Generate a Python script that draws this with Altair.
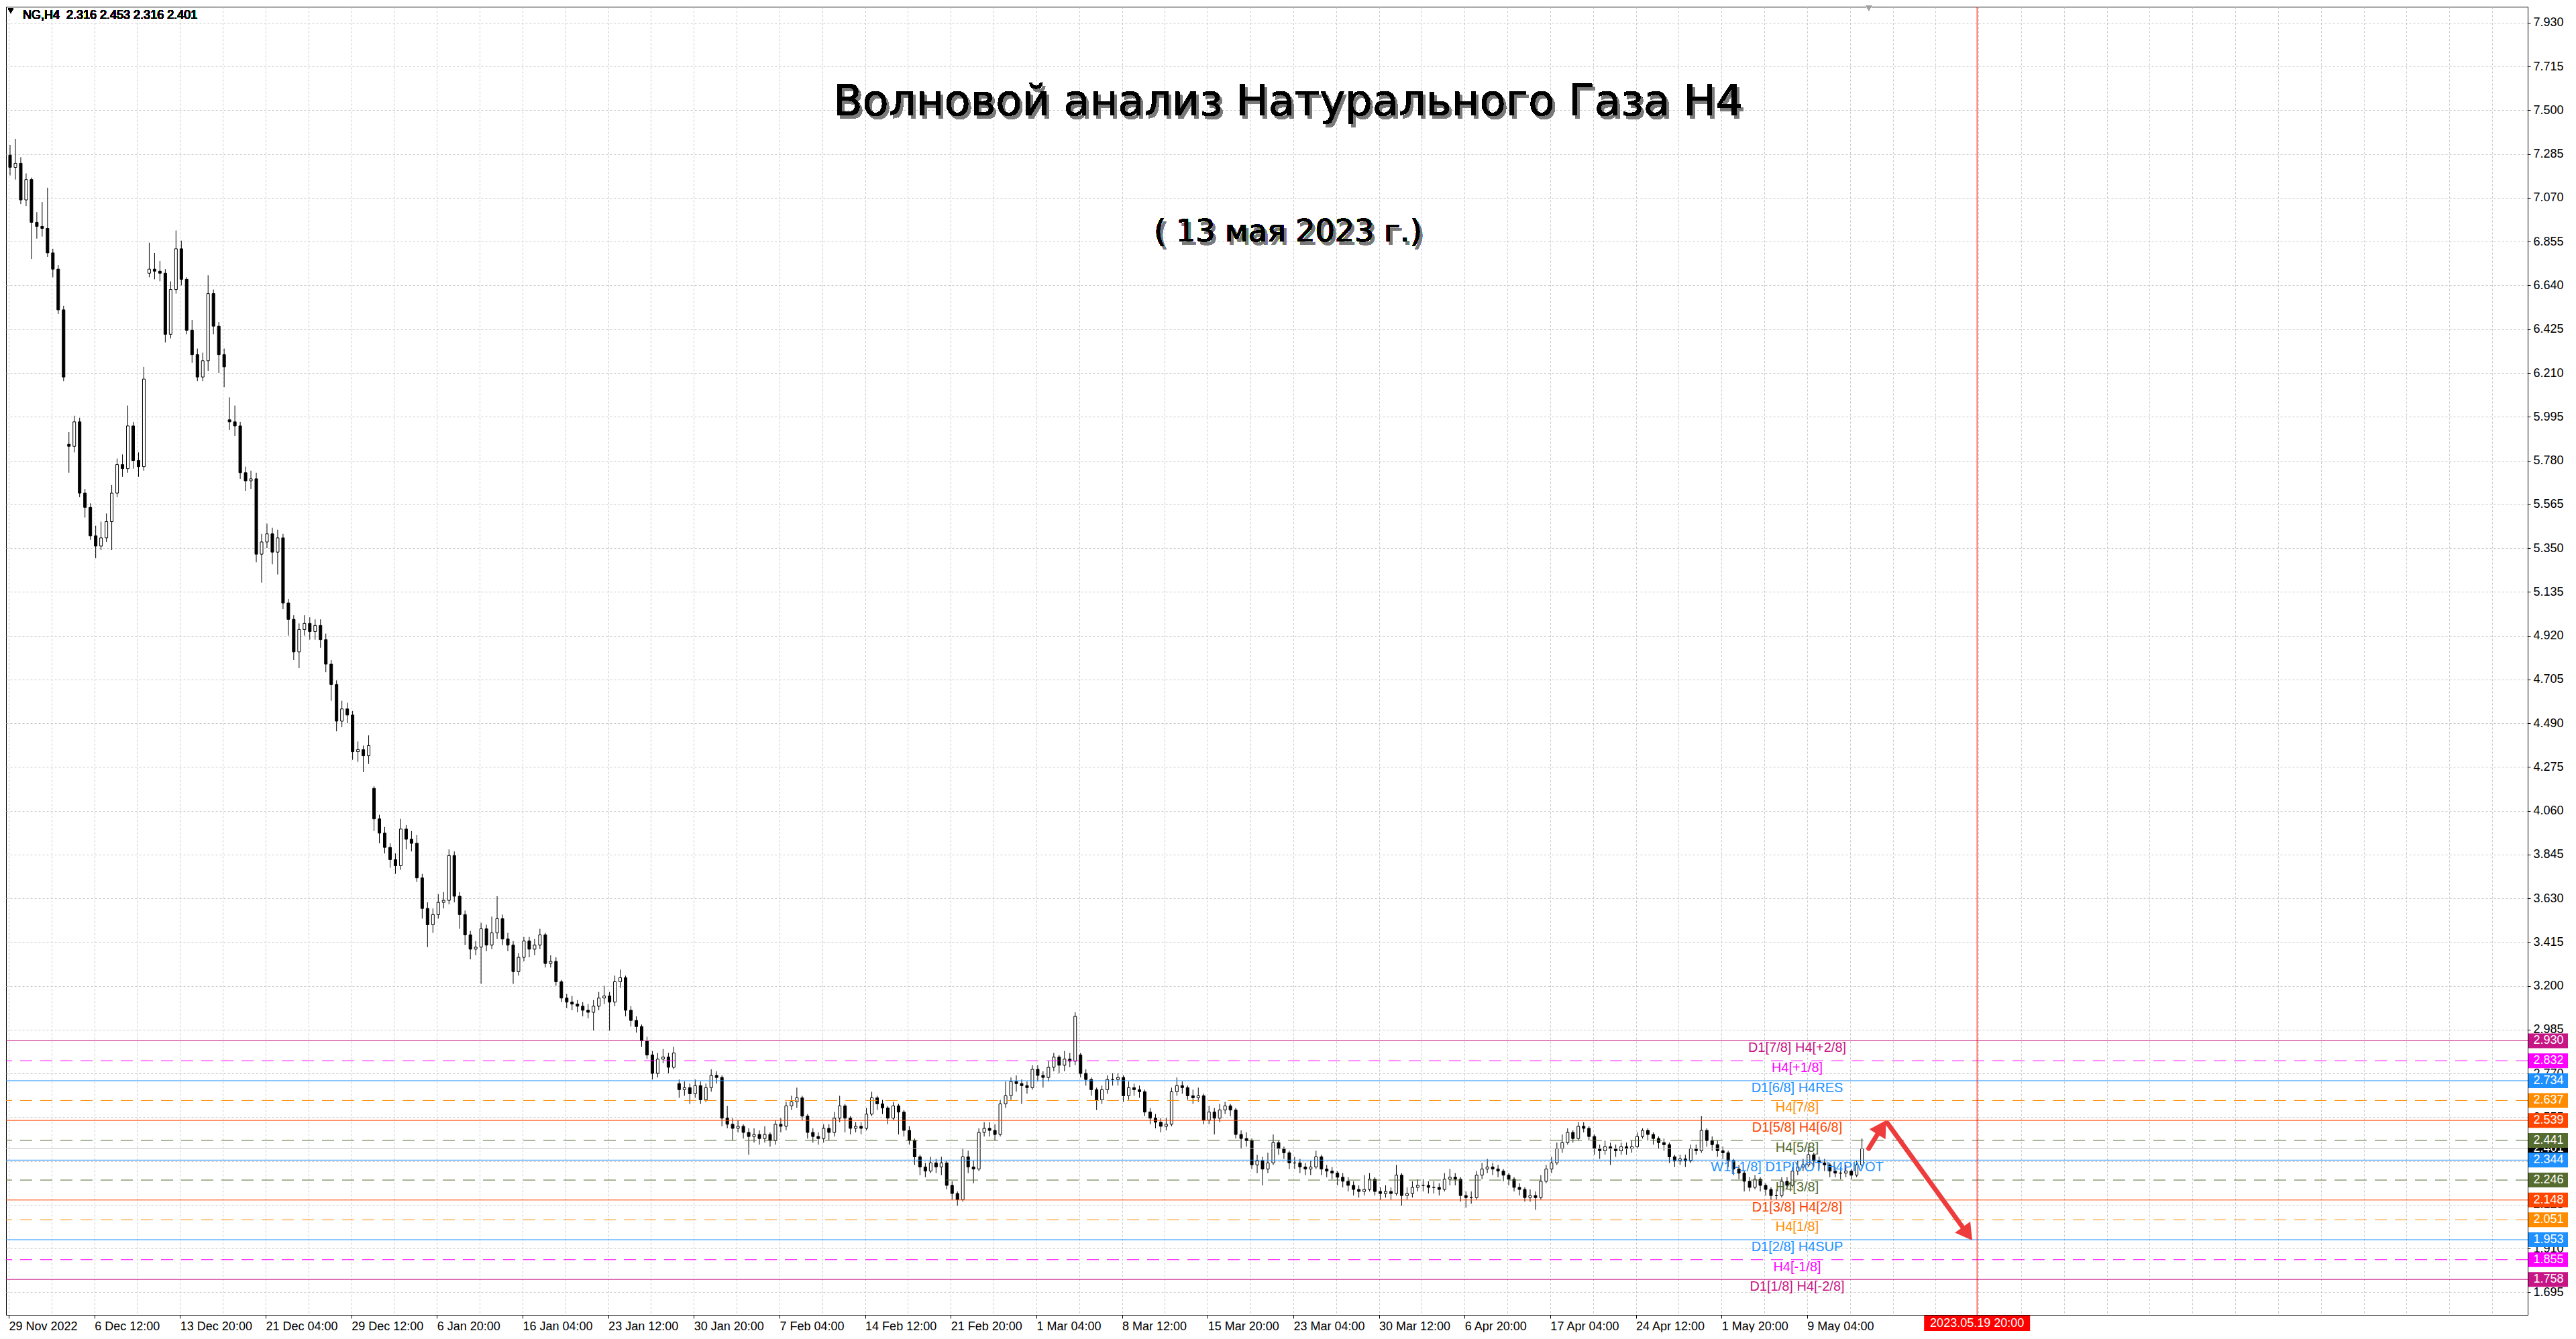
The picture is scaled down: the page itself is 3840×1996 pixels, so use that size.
import altair as alt
import pandas as pd

# NG, H4 chart — candles grouped two H4 bars per candle (8h)
first_open = 7.28
closes = [
    7.22, 7.24, 7.06, 7.16, 6.95, 6.93, 6.92, 6.80, 6.72, 6.52,
    6.19, 5.85, 5.97, 5.62, 5.55, 5.41, 5.36, 5.40, 5.48, 5.62,
    5.76, 5.74, 5.95, 5.78, 5.75, 6.18, 6.72, 6.71, 6.70, 6.40,
    6.62, 6.82, 6.67, 6.42, 6.30, 6.19, 6.27, 6.60, 6.44, 6.30,
    6.24, 5.97, 5.95, 5.72, 5.68, 5.69, 5.32, 5.38, 5.42, 5.33,
    5.40, 5.08, 5.00, 4.84, 4.95, 4.98, 4.94, 4.97, 4.90, 4.78,
    4.68, 4.50, 4.56, 4.53, 4.35, 4.36, 4.33, 4.38, 4.02, 3.95,
    3.88, 3.82, 3.79, 3.97, 3.92, 3.90, 3.73, 3.58, 3.50, 3.55,
    3.61, 3.62, 3.84, 3.64, 3.55, 3.45, 3.38, 3.39, 3.48, 3.40,
    3.46, 3.53, 3.43, 3.40, 3.27, 3.34, 3.42, 3.38, 3.40, 3.45,
    3.31, 3.32, 3.22, 3.14, 3.12, 3.11, 3.10, 3.08, 3.07, 3.10,
    3.14, 3.15, 3.12, 3.22, 3.24, 3.08, 3.03, 3.00, 2.93, 2.86,
    2.77, 2.84, 2.85, 2.80, 2.87, 2.69, 2.70, 2.67, 2.71, 2.64,
    2.70, 2.76, 2.75, 2.55, 2.52, 2.50, 2.51, 2.48, 2.46, 2.47,
    2.45, 2.47, 2.44, 2.52, 2.51, 2.61, 2.63, 2.65, 2.56, 2.48,
    2.46, 2.45, 2.50, 2.48, 2.55, 2.61, 2.55, 2.50, 2.51, 2.50,
    2.57, 2.65, 2.62, 2.60, 2.55, 2.61, 2.58, 2.49, 2.44, 2.36,
    2.31, 2.29, 2.33, 2.31, 2.33, 2.22, 2.18, 2.15, 2.36, 2.31,
    2.30, 2.48, 2.50, 2.49, 2.47, 2.62, 2.66, 2.73, 2.72, 2.71,
    2.70, 2.79, 2.76, 2.75, 2.80, 2.85, 2.81, 2.84, 2.83, 3.05,
    2.77, 2.74, 2.69, 2.64, 2.69, 2.74, 2.74, 2.75, 2.66, 2.70,
    2.69, 2.68, 2.58, 2.55, 2.53, 2.51, 2.52, 2.68, 2.71, 2.70,
    2.66, 2.65, 2.66, 2.54, 2.58, 2.55, 2.59, 2.61, 2.59, 2.47,
    2.45, 2.44, 2.32, 2.34, 2.30, 2.33, 2.43, 2.40, 2.38, 2.33,
    2.33, 2.31, 2.30, 2.31, 2.36, 2.30, 2.29, 2.28, 2.26, 2.24,
    2.22, 2.20, 2.19, 2.20, 2.25, 2.19, 2.18, 2.19, 2.18, 2.27,
    2.17, 2.18, 2.21, 2.22, 2.22, 2.21, 2.21, 2.20, 2.25, 2.26,
    2.25, 2.17, 2.16, 2.16, 2.27, 2.30, 2.31, 2.30, 2.29, 2.27,
    2.25, 2.21, 2.20, 2.16, 2.17, 2.16, 2.24, 2.30, 2.33, 2.40,
    2.43, 2.48, 2.45, 2.51, 2.50, 2.46, 2.40, 2.39, 2.41, 2.40,
    2.39, 2.41, 2.40, 2.41, 2.46, 2.49, 2.47, 2.45, 2.43, 2.42,
    2.36, 2.34, 2.35, 2.34, 2.40, 2.39, 2.49, 2.44, 2.42, 2.39,
    2.38, 2.34, 2.30, 2.28, 2.24, 2.21, 2.25, 2.22, 2.20, 2.17,
    2.17, 2.24, 2.22, 2.29, 2.31, 2.32, 2.37, 2.34, 2.33, 2.32,
    2.29, 2.28, 2.28, 2.29, 2.27, 2.32, 2.40,
]
highs = [
    7.33, 7.36, 7.27, 7.19, 7.17, 7.00, 7.05, 7.12, 6.82, 6.74,
    6.54, 5.92, 6.00, 5.99, 5.64, 5.57, 5.46, 5.48, 5.52, 5.66,
    5.79, 5.81, 6.05, 5.97, 5.82, 6.24, 6.85, 6.80, 6.76, 6.72,
    6.66, 6.91, 6.86, 6.68, 6.47, 6.33, 6.31, 6.69, 6.62, 6.46,
    6.33, 6.09, 6.05, 5.97, 5.75, 5.73, 5.72, 5.42, 5.47, 5.45,
    5.44, 5.42, 5.10, 5.02, 4.98, 5.02, 5.01, 5.00, 5.00, 4.93,
    4.80, 4.70, 4.60, 4.59, 4.55, 4.40, 4.38, 4.43, 4.18, 4.04,
    3.98, 3.90, 3.85, 4.02, 3.99, 3.96, 3.94, 3.75, 3.61, 3.58,
    3.65, 3.66, 3.87, 3.86, 3.66, 3.57, 3.47, 3.42, 3.51, 3.50,
    3.54, 3.64, 3.55, 3.46, 3.42, 3.36, 3.44, 3.44, 3.43, 3.48,
    3.46, 3.35, 3.34, 3.23, 3.16, 3.15, 3.13, 3.12, 3.11, 3.13,
    3.17, 3.20, 3.17, 3.25, 3.28, 3.25, 3.10, 3.05, 3.01, 2.95,
    2.88, 2.87, 2.89, 2.87, 2.90, 2.74, 2.73, 2.72, 2.74, 2.73,
    2.72, 2.79, 2.78, 2.76, 2.61, 2.55, 2.54, 2.52, 2.50, 2.50,
    2.49, 2.51, 2.48, 2.54, 2.55, 2.63, 2.66, 2.70, 2.66, 2.57,
    2.50, 2.48, 2.52, 2.52, 2.58, 2.66, 2.62, 2.56, 2.53, 2.53,
    2.60, 2.68, 2.66, 2.64, 2.61, 2.63, 2.62, 2.59, 2.51, 2.45,
    2.37, 2.33, 2.36, 2.35, 2.36, 2.34, 2.24, 2.19, 2.40, 2.39,
    2.34, 2.50, 2.53, 2.53, 2.52, 2.64, 2.73, 2.75, 2.76, 2.74,
    2.73, 2.81, 2.81, 2.78, 2.83, 2.87, 2.86, 2.88, 2.87, 3.07,
    2.87, 2.79, 2.75, 2.70, 2.71, 2.76, 2.77, 2.77, 2.76, 2.73,
    2.72, 2.71, 2.69, 2.60, 2.57, 2.55, 2.55, 2.70, 2.75, 2.73,
    2.71, 2.69, 2.70, 2.67, 2.61, 2.60, 2.62, 2.63, 2.62, 2.60,
    2.49, 2.48, 2.45, 2.37, 2.36, 2.38, 2.47, 2.44, 2.41, 2.39,
    2.36, 2.35, 2.33, 2.34, 2.39, 2.37, 2.32, 2.31, 2.29, 2.28,
    2.26, 2.24, 2.22, 2.27, 2.28, 2.26, 2.21, 2.22, 2.21, 2.32,
    2.28, 2.21, 2.24, 2.25, 2.25, 2.24, 2.24, 2.23, 2.28, 2.30,
    2.28, 2.26, 2.19, 2.19, 2.29, 2.33, 2.35, 2.33, 2.32, 2.30,
    2.28, 2.26, 2.23, 2.21, 2.20, 2.19, 2.27, 2.32, 2.36, 2.43,
    2.47, 2.50, 2.49, 2.53, 2.53, 2.51, 2.47, 2.42, 2.44, 2.43,
    2.42, 2.43, 2.43, 2.44, 2.48, 2.50, 2.50, 2.48, 2.46, 2.45,
    2.43, 2.37, 2.37, 2.37, 2.42, 2.42, 2.56, 2.50, 2.46, 2.44,
    2.41, 2.39, 2.35, 2.32, 2.29, 2.26, 2.27, 2.26, 2.23, 2.21,
    2.20, 2.26, 2.26, 2.31, 2.34, 2.35, 2.41, 2.38, 2.36, 2.35,
    2.33, 2.31, 2.31, 2.32, 2.30, 2.34, 2.45,
]
lows = [
    7.18, 7.16, 7.04, 7.03, 6.77, 6.87, 6.88, 6.78, 6.68, 6.50,
    6.17, 5.72, 5.82, 5.60, 5.50, 5.39, 5.30, 5.34, 5.38, 5.34,
    5.60, 5.70, 5.72, 5.74, 5.70, 5.73, 6.68, 6.67, 6.66, 6.36,
    6.38, 6.60, 6.64, 6.40, 6.26, 6.17, 6.17, 6.22, 6.40, 6.21,
    6.14, 5.93, 5.90, 5.69, 5.63, 5.64, 5.28, 5.18, 5.35, 5.27,
    5.22, 5.05, 4.92, 4.80, 4.76, 4.92, 4.90, 4.90, 4.86, 4.74,
    4.60, 4.45, 4.47, 4.49, 4.31, 4.30, 4.25, 4.29, 3.96, 3.90,
    3.85, 3.78, 3.75, 3.77, 3.87, 3.86, 3.71, 3.53, 3.39, 3.46,
    3.53, 3.58, 3.60, 3.61, 3.48, 3.40, 3.33, 3.35, 3.21, 3.37,
    3.38, 3.43, 3.40, 3.37, 3.21, 3.25, 3.32, 3.34, 3.35, 3.38,
    3.29, 3.29, 3.20, 3.12, 3.09, 3.08, 3.07, 3.05, 3.04, 2.98,
    3.08, 3.11, 2.98, 3.10, 3.19, 3.05, 3.00, 2.97, 2.90, 2.84,
    2.74, 2.75, 2.82, 2.77, 2.79, 2.65, 2.66, 2.62, 2.65, 2.62,
    2.63, 2.68, 2.72, 2.51, 2.50, 2.44, 2.48, 2.45, 2.37, 2.43,
    2.42, 2.43, 2.41, 2.42, 2.48, 2.49, 2.59, 2.60, 2.54, 2.45,
    2.43, 2.42, 2.43, 2.44, 2.46, 2.53, 2.48, 2.47, 2.48, 2.47,
    2.49, 2.56, 2.59, 2.57, 2.52, 2.54, 2.47, 2.46, 2.42, 2.32,
    2.27, 2.26, 2.28, 2.28, 2.27, 2.20, 2.15, 2.12, 2.14, 2.28,
    2.23, 2.29, 2.46, 2.46, 2.44, 2.46, 2.60, 2.64, 2.68, 2.62,
    2.67, 2.69, 2.73, 2.70, 2.73, 2.78, 2.77, 2.78, 2.80, 2.81,
    2.75, 2.71, 2.66, 2.59, 2.62, 2.67, 2.71, 2.71, 2.63, 2.64,
    2.66, 2.65, 2.56, 2.52, 2.50, 2.48, 2.49, 2.51, 2.66, 2.67,
    2.64, 2.62, 2.63, 2.52, 2.52, 2.47, 2.53, 2.57, 2.56, 2.45,
    2.40, 2.41, 2.30, 2.28, 2.22, 2.28, 2.32, 2.37, 2.35, 2.30,
    2.30, 2.28, 2.27, 2.27, 2.30, 2.27, 2.26, 2.25, 2.22, 2.21,
    2.19, 2.17, 2.16, 2.17, 2.19, 2.17, 2.15, 2.16, 2.15, 2.17,
    2.12, 2.15, 2.16, 2.19, 2.19, 2.18, 2.18, 2.17, 2.19, 2.22,
    2.22, 2.14, 2.11, 2.13, 2.15, 2.25, 2.28, 2.27, 2.26, 2.24,
    2.22, 2.19, 2.17, 2.14, 2.14, 2.10, 2.15, 2.23, 2.28, 2.32,
    2.38, 2.42, 2.43, 2.44, 2.48, 2.44, 2.37, 2.35, 2.37, 2.32,
    2.36, 2.37, 2.37, 2.38, 2.40, 2.45, 2.44, 2.42, 2.40, 2.39,
    2.33, 2.31, 2.32, 2.31, 2.33, 2.37, 2.38, 2.41, 2.39, 2.36,
    2.35, 2.31, 2.27, 2.25, 2.19, 2.19, 2.20, 2.19, 2.17, 2.15,
    2.15, 2.16, 2.20, 2.21, 2.27, 2.29, 2.31, 2.31, 2.30, 2.29,
    2.26, 2.26, 2.25, 2.26, 2.25, 2.26, 2.30,
]
# opening prices after weekend gaps (all others open at the previous close)
gap_opens = {11: 5.86, 26: 6.70, 41: 5.98, 68: 4.17, 125: 2.72, 200: 2.86}

date_labels = [
    "29 Nov 2022", "6 Dec 12:00", "13 Dec 20:00", "21 Dec 04:00", "29 Dec 12:00",
    "6 Jan 20:00", "16 Jan 04:00", "23 Jan 12:00", "30 Jan 20:00", "7 Feb 04:00",
    "14 Feb 12:00", "21 Feb 20:00", "1 Mar 04:00", "8 Mar 12:00", "15 Mar 20:00",
    "23 Mar 04:00", "30 Mar 12:00", "6 Apr 20:00", "17 Apr 04:00", "24 Apr 12:00",
    "1 May 20:00", "9 May 04:00",
]
price_ticks = [
    7.930, 7.715, 7.500, 7.285, 7.070, 6.855, 6.640, 6.425, 6.210, 5.995,
    5.780, 5.565, 5.350, 5.135, 4.920, 4.705, 4.490, 4.275, 4.060, 3.845,
    3.630, 3.415, 3.200, 2.985, 2.770, 2.555, 2.340, 2.125, 1.910, 1.695,
]

level_prices = [2.930, 2.832, 2.734, 2.637, 2.539, 2.441, 2.344, 2.246, 2.148, 2.051, 1.953, 1.855, 1.758]
level_names = [
    "D1[7/8] H4[+2/8]", "H4[+1/8]", "D1[6/8] H4RES", "H4[7/8]", "D1[5/8] H4[6/8]",
    "H4[5/8]", "W1[-1/8] D1PIVOT H4PIVOT", "H4[3/8]", "D1[3/8] H4[2/8]", "H4[1/8]",
    "D1[2/8] H4SUP", "H4[-1/8]", "D1[1/8] H4[-2/8]",
]
level_colors = [
    "#C71585", "#FF00FF", "#1E90FF", "#FF8C00", "#FF4500", "#556B2F", "#1E90FF",
    "#556B2F", "#FF4500", "#FF8C00", "#1E90FF", "#FF00FF", "#C71585",
]
level_dashed = [False, True, False, True, False, True, False, True, False, True, False, True, False]

last_price = 2.401
ohlc_text = "NG,H4\u00a0\u00a02.316 2.453 2.316 2.401"
marker_bar = 367.5
marker_text = "2023.05.19 20:00"

# hand-drawn forecast arrows (bar, price)
arrow_start_bar = [347.25, 350.75]
arrow_start_price = [2.401, 2.526]
arrow_end_bar = [349.7, 365.7]
arrow_end_price = [2.505, 1.982]
arrow_angle = [32, 144]

title_text = "Волновой анализ Натурального Газа H4"
subtitle_text = "( 13 мая 2023 г.)"

# ---- layout -----------------------------------------------------------
W, H = 3759, 1950
X_DOM = [-0.125, 469.75]
Y_DOM = [1.584, 8.009]
FONT = "Liberation Sans"
xs = alt.Scale(domain=X_DOM, nice=False, zero=False)
ys = alt.Scale(domain=Y_DOM, nice=False, zero=False)
px_per_price = H / (Y_DOM[1] - Y_DOM[0])

opens = [first_open] + [gap_opens.get(i, closes[i - 1]) for i in range(1, len(closes))]
candles = pd.DataFrame({"bar": range(len(closes)), "open": opens, "close": closes,
                        "high": highs, "low": lows})
candles["high"] = candles[["high", "open", "close"]].max(axis=1)
candles["low"] = candles[["low", "open", "close"]].min(axis=1)
candles["fill"] = ["white" if c >= o else "black" for o, c in zip(opens, closes)]

levels = pd.DataFrame({"price": level_prices, "name": level_names,
                       "color": level_colors, "dashed": level_dashed})
half = 11 / px_per_price
levels["top"] = levels["price"] + half
levels["bot"] = levels["price"] - half
levels["label"] = [f"{p:.3f}" for p in level_prices]

last = pd.DataFrame({"price": [last_price], "top": [last_price + half],
                     "bot": [last_price - half], "label": [f"{last_price:.3f}"]})

tick_test = "round((datum.value + 0.25) / 8) % 2 == 0 && datum.value < 340"
label_js = "[" + ",".join(f"'{s}'" for s in date_labels) + "]"
x_axis = alt.Axis(
    values=[-0.25 + 8 * m for m in range(59)], title=None, grid=True,
    gridColor="#C8C8C8", gridDash=[3, 3], domainColor="black", tickColor="black",
    tickSize=5, tickOpacity={"condition": {"test": tick_test, "value": 1}, "value": 0},
    labelExpr=f"({tick_test}) ? {label_js}[round((datum.value + 0.25) / 16)] : ''",
    labelAlign="left", labelBaseline="top", labelPadding=3, labelFont=FONT,
    labelFontSize=18, labelColor="black", labelOverlap=False, labelBound=False,
    labelFlush=False,
)
y_axis = alt.Axis(
    orient="right", values=price_ticks, format=".3f", title=None, grid=True,
    gridColor="#C8C8C8", gridDash=[3, 3], domainColor="black", tickColor="black",
    tickSize=4, labelAlign="left", labelPadding=4, labelFont=FONT, labelFontSize=18,
    labelColor="black", labelOverlap=False, labelBound=False, labelFlush=False,
)


def X(field):
    return alt.X(field, scale=xs, axis=x_axis)


def Y(field):
    return alt.Y(field, scale=ys, axis=y_axis)


wicks = alt.Chart(candles).mark_rule(color="black", strokeWidth=1).encode(
    x=X("bar:Q"), y=Y("low:Q"), y2="high:Q",
)
bodies = alt.Chart(candles).mark_bar(width=4, stroke="black", strokeWidth=1).encode(
    x=X("bar:Q"), y=Y("open:Q"), y2="close:Q",
    fill=alt.Fill("fill:N", scale=None),
)

solid_lines = alt.Chart(levels).transform_filter("!datum.dashed").mark_rule(strokeWidth=1).encode(
    y=Y("price:Q"), color=alt.Color("color:N", scale=None),
)
dashed_lines = alt.Chart(levels).transform_filter("datum.dashed").mark_rule(
    strokeWidth=1, strokeDash=[18, 12]).encode(
    y=Y("price:Q"), color=alt.Color("color:N", scale=None),
)
bid_line = alt.Chart(last).mark_rule(color="#C0C0C0", strokeWidth=1).encode(y=Y("price:Q"))
level_text = alt.Chart(levels).mark_text(
    align="center", baseline="top", font=FONT, fontSize=20, dy=1).encode(
    x=alt.value(2670), y=Y("price:Q"), text="name:N",
    color=alt.Color("color:N", scale=None),
)

last_box = alt.Chart(last).mark_rect(color="black").encode(
    x=alt.value(W + 1), x2=alt.value(W + 60), y=Y("top:Q"), y2="bot:Q",
)
last_label = alt.Chart(last).mark_text(
    align="center", baseline="middle", font=FONT, fontSize=18, color="white").encode(
    x=alt.value(W + 31), y=Y("price:Q"), text="label:N",
)
level_boxes = alt.Chart(levels).mark_rect().encode(
    x=alt.value(W + 1), x2=alt.value(W + 60), y=Y("top:Q"), y2="bot:Q",
    color=alt.Color("color:N", scale=None),
)
level_box_text = alt.Chart(levels).mark_text(
    align="center", baseline="middle", font=FONT, fontSize=18, color="white").encode(
    x=alt.value(W + 31), y=Y("price:Q"), text="label:N",
)

marker = pd.DataFrame({"bar": [marker_bar], "lo": [marker_bar - 9.9],
                       "hi": [marker_bar + 9.9], "text": [marker_text]})
marker_line = alt.Chart(marker).mark_rule(color="#FF0000", strokeWidth=1).encode(x=X("bar:Q"))
marker_box = alt.Chart(marker).mark_rect(color="#FF0000").encode(
    x=X("lo:Q"), x2="hi:Q", y=alt.value(H + 1), y2=alt.value(H + 24),
)
marker_label = alt.Chart(marker).mark_text(
    align="center", baseline="middle", font=FONT, fontSize=18, color="white").encode(
    x=X("bar:Q"), y=alt.value(H + 13), text="text:N",
)

arrows = pd.DataFrame({"x": arrow_start_bar, "y": arrow_start_price,
                       "x2": arrow_end_bar, "y2": arrow_end_price, "angle": arrow_angle})
arrow_lines = alt.Chart(arrows).mark_rule(color="#EE3B3B", strokeWidth=7, strokeCap="round").encode(
    x=X("x:Q"), y=Y("y:Q"), x2="x2:Q", y2="y2:Q",
)
arrow_heads = alt.Chart(arrows).mark_point(
    shape="triangle-up", filled=True, size=800, color="#EE3B3B", opacity=1).encode(
    x=X("x2:Q"), y=Y("y2:Q"), angle=alt.Angle("angle:Q", scale=None),
)

TITLE_FONT = "DejaVu Sans"
title_shadow = alt.Chart(candles).mark_text(
    text=title_text, font=TITLE_FONT, fontSize=64, color="#7A7A7A", opacity=0.4,
    align="center", baseline="alphabetic").encode(x=alt.value(1915), y=alt.value(167))
title = alt.Chart(candles).mark_text(
    text=title_text, font=TITLE_FONT, fontSize=64, color="black",
    align="center", baseline="alphabetic").encode(x=alt.value(1911), y=alt.value(162))
subtitle_shadow = alt.Chart(candles).mark_text(
    text=subtitle_text, font=TITLE_FONT, fontSize=46, color="#7A7A7A", opacity=0.4,
    align="center", baseline="alphabetic").encode(x=alt.value(1915), y=alt.value(355))
subtitle = alt.Chart(candles).mark_text(
    text=subtitle_text, font=TITLE_FONT, fontSize=46, color="black",
    align="center", baseline="alphabetic").encode(x=alt.value(1911), y=alt.value(350))

header_arrow = alt.Chart(candles).mark_point(
    shape="triangle-down", filled=True, size=60, color="black", opacity=1).encode(
    x=alt.value(7), y=alt.value(6))
header = alt.Chart(candles).mark_text(
    text=ohlc_text, font=FONT, fontSize=18, color="black",
    align="left", baseline="alphabetic").encode(x=alt.value(25), y=alt.value(18))
shift_mark = alt.Chart(candles).mark_point(
    shape="triangle-down", filled=True, size=70, color="#A0A0A0", opacity=1).encode(
    x=alt.value(2777), y=alt.value(2))

chart = alt.layer(
    wicks, bodies, solid_lines, dashed_lines, bid_line, marker_line, level_text,
    last_box, last_label, level_boxes, level_box_text, marker_box, marker_label,
    arrow_lines, arrow_heads, title_shadow, title, subtitle_shadow, subtitle,
    header_arrow, header, shift_mark,
).properties(
    width=W, height=H, padding=0, background="white",
).configure_view(
    stroke="black", strokeWidth=1,
)

chart.save("out.html", embed_options={"renderer": "svg", "actions": False})
